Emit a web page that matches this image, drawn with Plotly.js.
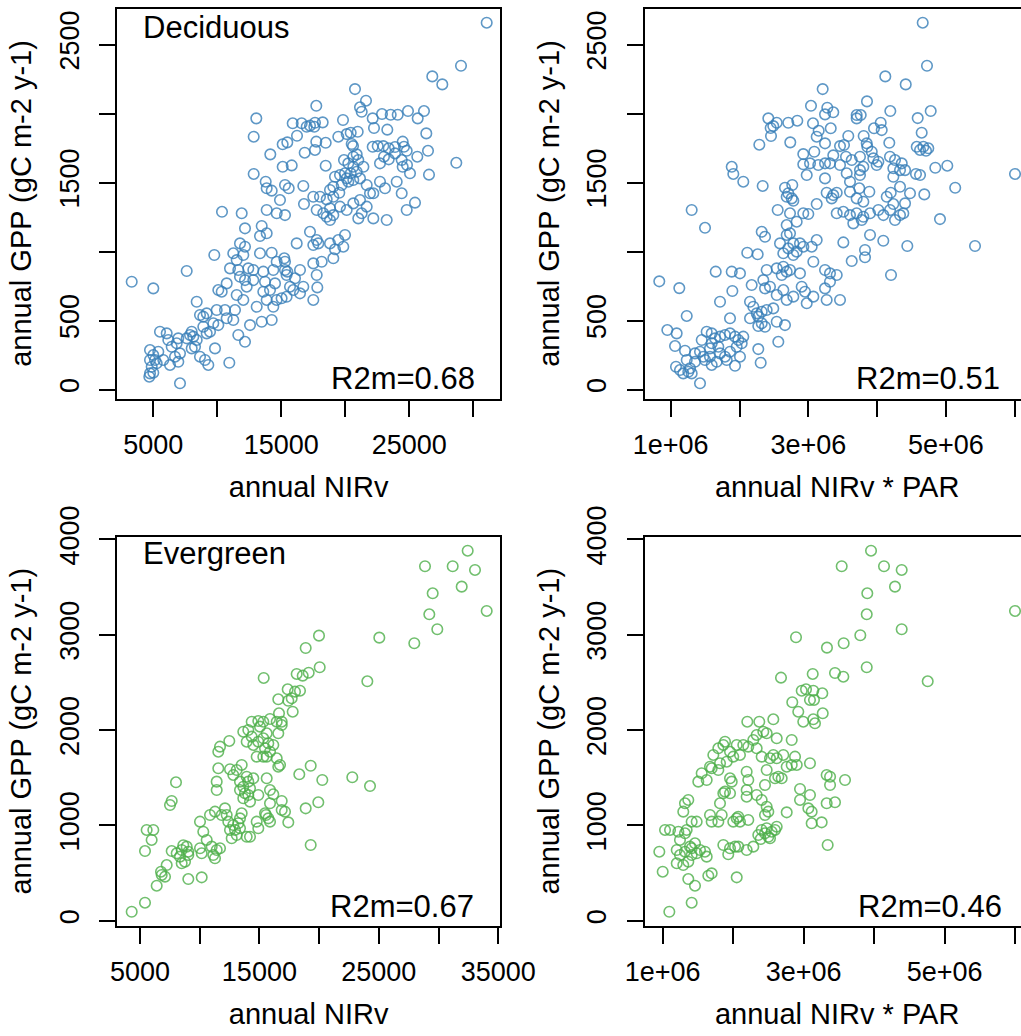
<!DOCTYPE html>
<html>
<head>
<meta charset="utf-8">
<script src="https://cdn.plot.ly/plotly-3.0.1.min.js"></script>
<style>
html,body{margin:0;padding:0;overflow:hidden;background:#fff;}
#chart{width:1100px;height:1036px;}
</style>
</head>
<body>
<div id="chart"></div>
<script>
// ---------------- DATA ----------------
// Deciduous: [annual NIRv, annual GPP]
const decNIRvPts = [
[31047,2658],[29039,2346],[26797,2269],[27578,2211],[20758,2177],[21617,2093],[17734,2056],[21148,2045],[21281,2013],[13047,1965],
[22867,1996],[23547,1991],[24094,1991],[24898,2018],[26148,2018],[25656,1965],[22141,1965],[19820,1953],[15891,1929],[16594,1929],
[17242,1912],[17633,1933],[18234,1936],[16984,1904],[17578,1904],[12844,1832],[16227,1839],[22242,1895],[23281,1883],[19453,1832],
[20109,1851],[20422,1861],[20969,1868],[26328,1856],[17734,1796],[18469,1788],[15109,1777],[15469,1791],[14141,1704],[16828,1716],
[17633,1736],[20500,1779],[20602,1764],[22141,1759],[22531,1764],[22969,1764],[23391,1748],[23883,1757],[24484,1796],[24586,1759],
[24797,1730],[26461,1730],[19898,1663],[20234,1639],[20625,1687],[20891,1704],[21016,1663],[21414,1614],[20625,1614],[20891,1578],
[20422,1567],[20109,1530],[20625,1518],[21148,1530],[18469,1622],[23023,1687],[22711,1639],[23391,1668],[23883,1711],[24406,1663],
[24484,1614],[24820,1627],[25055,1567],[25625,1687],[28672,1643],[26539,1557],[12844,1562],[15109,1614],[15813,1624],[13781,1506],
[13859,1458],[14250,1441],[15289,1482],[15578,1458],[16719,1475],[14898,1373],[13859,1301],[14641,1277],[15289,1264],[10367,1288],
[11906,1277],[16773,1344],[17500,1397],[18023,1397],[18547,1378],[19063,1397],[19531,1426],[18805,1446],[19063,1469],[19719,1482],
[20234,1506],[19586,1554],[19195,1542],[19977,1567],[21672,1482],[21930,1422],[22188,1422],[22711,1506],[23102,1458],[24016,1506],
[24406,1422],[25445,1354],[24797,1301],[19586,1325],[20109,1301],[20625,1349],[21281,1277],[21672,1325],[21148,1373],[17766,1301],
[18281,1277],[18805,1313],[19063,1264],[23234,1228],[18805,1228],[21016,1240],[22188,1240],[18547,1252],[12164,1168],[13469,1185],
[13859,1132],[13336,1112],[11773,1059],[12164,1035],[9766,975],[11250,987],[12031,975],[11516,938],[13336,987],[14250,991],
[16203,1059],[17242,1143],[17766,1083],[17500,1047],[17891,1059],[18805,1059],[19195,1016],[19453,1083],[19844,1035],[19977,1120],
[19063,951],[18156,926],[17500,914],[15234,951],[15289,866],[15469,854],[16461,866],[16070,806],[16719,745],[17766,830],
[17813,740],[17500,649],[16461,697],[7609,859],[3313,781],[5000,733],[10992,878],[11641,866],[12422,878],[12813,866],
[11773,817],[12164,793],[12813,793],[12297,745],[10734,769],[10344,709],[10078,721],[13594,854],[14375,866],[13727,781],
[14117,721],[14508,769],[13594,709],[13859,649],[14375,600],[14633,649],[15024,661],[15414,672],[15680,745],[15414,830],
[15938,721],[11516,685],[12031,649],[13078,600],[8391,636],[8648,540],[8906,528],[9172,552],[9953,576],[9688,480],
[10602,576],[10734,516],[11383,576],[11250,504],[10078,467],[12555,467],[13469,491],[14250,504],[11641,395],[12164,346],
[9820,298],[10938,194],[7086,45],[4742,286],[5000,250],[5391,274],[5523,419],[6047,407],[6172,359],[6438,310],
[6828,335],[6953,371],[7086,262],[6695,238],[6305,178],[5781,214],[5266,190],[4875,165],[4742,117],[5000,122],
[4688,93],[5133,214],[6953,201],[7609,371],[7867,395],[8125,383],[8258,310],[8000,298],[8906,455],[9172,407],
[9430,419],[8648,238],[9039,214],[9297,178],[8391,359],[8000,419],[4742,214],[14641,926],[15289,926]
];
// Deciduous: [annual NIRv * PAR, annual GPP]
const decNIRvPARPts = [
[4.663e6,2658],[4.725e6,2346],[4.119e6,2269],[4.416e6,2211],[3.209e6,2177],[3.853e6,2088],[3.039e6,2056],[3.276e6,2042],[3.363e6,2009],[3.243e6,1994],
[4.192e6,2018],[4.779e6,2018],[4.590e6,1967],[4.648e6,1861],[3.703e6,1989],[3.762e6,1989],[3.703e6,1965],[2.419e6,1965],[2.541e6,1933],[2.491e6,1909],
[2.453e6,1895],[2.709e6,1933],[2.840e6,1948],[2.458e6,1837],[2.288e6,1774],[2.738e6,1791],[3.068e6,1929],[3.151e6,1875],[3.122e6,1832],[3.326e6,1893],
[3.955e6,1893],[4.052e6,1933],[4.067e6,1880],[4.177e6,1788],[3.805e6,1837],[3.849e6,1784],[3.581e6,1837],[3.519e6,1772],[3.461e6,1764],[3.243e6,1784],
[3.087e6,1723],[2.927e6,1706],[3.363e6,1697],[3.243e6,1639],[3.315e6,1639],[3.461e6,1627],[2.927e6,1632],[3.025e6,1639],[3.145e6,1627],[2.977e6,1554],
[3.243e6,1530],[3.548e6,1687],[3.631e6,1663],[3.751e6,1687],[3.858e6,1759],[3.922e6,1723],[3.945e6,1675],[4.018e6,1651],[3.994e6,1627],[3.558e6,1567],
[3.606e6,1506],[3.751e6,1590],[3.800e6,1614],[3.751e6,1554],[4.187e6,1687],[4.260e6,1663],[4.358e6,1639],[4.236e6,1603],[4.333e6,1590],[4.406e6,1590],
[4.236e6,1542],[4.576e6,1759],[4.624e6,1736],[4.672e6,1759],[4.711e6,1730],[4.744e6,1748],[4.565e6,1562],[4.624e6,1554],[4.846e6,1607],[5.020e6,1622],
[6.004e6,1562],[5.135e6,1462],[4.686e6,1414],[1.887e6,1614],[1.910e6,1562],[2.055e6,1506],[2.337e6,1475],[2.661e6,1462],[2.767e6,1482],[2.686e6,1397],
[2.759e6,1385],[2.782e6,1368],[2.709e6,1422],[3.267e6,1426],[3.363e6,1409],[3.413e6,1426],[3.340e6,1385],[3.606e6,1433],[3.741e6,1458],[3.887e6,1433],
[3.703e6,1385],[3.800e6,1361],[4.140e6,1397],[4.198e6,1426],[4.333e6,1469],[4.478e6,1422],[4.406e6,1349],[4.236e6,1344],[1.305e6,1301],[3.122e6,1344],
[1.499e6,1172],[0.834e6,784],[1.125e6,735],[2.555e6,1301],[2.734e6,1277],[2.831e6,1216],[2.927e6,1277],[3.000e6,1272],[2.686e6,1192],[2.734e6,1132],
[2.686e6,1120],[3.413e6,1277],[3.509e6,1288],[3.606e6,1264],[3.703e6,1277],[3.800e6,1252],[3.897e6,1277],[4.018e6,1301],[4.091e6,1264],[4.188e6,1301],
[4.260e6,1228],[4.333e6,1264],[4.381e6,1277],[3.654e6,1204],[3.776e6,1228],[4.914e6,1235],[2.323e6,1143],[2.371e6,1107],[2.589e6,1059],[2.637e6,987],
[2.709e6,1023],[2.782e6,1059],[2.879e6,1059],[2.928e6,1035],[2.831e6,999],[2.782e6,975],[3.049e6,1035],[3.122e6,1083],[3.073e6,926],[3.509e6,1066],
[3.631e6,931],[3.824e6,1011],[3.824e6,958],[3.897e6,1120],[4.090e6,1078],[4.439e6,1040],[5.423e6,1040],[4.202e6,830],[2.113e6,991],[2.264e6,980],
[1.654e6,854],[1.887e6,854],[2.007e6,842],[1.896e6,714],[1.717e6,636],[1.862e6,516],[1.233e6,533],[2.177e6,757],[2.346e6,793],[2.371e6,733],
[2.395e6,866],[2.541e6,878],[2.614e6,830],[2.637e6,890],[2.686e6,854],[2.734e6,866],[2.443e6,745],[2.541e6,685],[2.637e6,721],[2.686e6,649],
[2.782e6,673],[2.879e6,842],[2.904e6,745],[2.952e6,709],[2.977e6,625],[3.073e6,673],[3.243e6,866],[3.315e6,842],[3.413e6,830],[3.243e6,733],
[3.315e6,781],[3.267e6,649],[3.461e6,649],[2.153e6,636],[2.201e6,600],[2.250e6,552],[2.323e6,564],[2.395e6,576],[2.491e6,588],[2.153e6,516],
[2.273e6,528],[2.323e6,480],[2.273e6,460],[2.371e6,455],[2.541e6,491],[2.661e6,467],[2.564e6,346],[2.273e6,293],[2.308e6,194],[0.951e6,431],
[1.087e6,407],[1.063e6,315],[1.208e6,281],[1.077e6,165],[1.183e6,117],[1.256e6,129],[1.305e6,117],[1.426e6,45],[1.353e6,262],[1.426e6,274],
[1.474e6,238],[1.451e6,359],[1.523e6,419],[1.596e6,407],[1.644e6,371],[1.717e6,383],[1.789e6,395],[1.862e6,407],[1.935e6,383],[1.983e6,359],
[2.055e6,383],[2.032e6,335],[1.959e6,310],[1.862e6,274],[1.789e6,238],[1.692e6,310],[1.717e6,262],[1.669e6,201],[1.596e6,178],[1.571e6,238],
[1.814e6,214],[1.935e6,172],[2.007e6,238],[1.499e6,214],[1.353e6,201],[1.233e6,214],[1.596e6,335],[1.571e6,298],[1.135e6,141],[1.281e6,154]
];
// Evergreen: [annual NIRv, annual GPP]
const evgNIRvPts = [
[32444,3882],[28869,3719],[31188,3719],[33056,3680],[31942,3505],[29513,3435],[29229,3215],[34036,3250],[29899,3058],[27973,2911],
[25042,2970],[19991,2991],[18877,2861],[20050,2659],[24039,2512],[15360,2547],[18123,2589],[18626,2571],[19128,2602],[17370,2428],
[17981,2403],[18400,2413],[16582,2323],[17420,2308],[17705,2334],[16641,2176],[17788,2193],[14355,2088],[14908,2095],[15327,2088],
[15888,2116],[16449,2088],[16868,2088],[4305,94],[5419,189],[6399,367],[6817,480],[7094,462],[6759,514],[7236,584],
[9045,437],[10167,455],[5419,731],[5558,952],[6114,952],[5976,847],[7513,1214],[7655,1256],[8015,1452],[7655,731],
[8073,707],[8492,742],[8626,792],[8911,777],[8350,672],[9045,689],[8769,619],[8492,602],[9045,724],[10025,1039],
[10301,934],[10025,760],[10167,707],[10863,1109],[11281,1144],[10586,847],[11005,777],[11139,689],[11424,742],[11700,760],
[11281,655],[11842,1109],[12119,1179],[12261,1109],[12395,1039],[12538,952],[12680,865],[12956,952],[13099,899],[13233,1022],
[13517,1127],[13375,970],[13936,881],[14213,881],[14773,1039],[14908,970],[15553,1109],[15745,1074],[15888,1039],[15469,1127],
[13375,1074],[12814,1004],[17420,1032],[16868,1162],[17144,1144],[19296,794],[18877,1179],[19933,1242],[15888,1232],[16868,1256],
[16164,1326],[18341,1536],[19296,1626],[20268,1476],[22780,1505],[24263,1413],[11424,1459],[11424,1371],[11558,1599],[12538,1589],
[13099,1581],[12814,1529],[13517,1634],[13375,1459],[13651,1406],[13936,1511],[14070,1459],[13375,1371],[13794,1337],[14213,1389],
[14489,1494],[14070,1319],[13651,1284],[14213,1249],[14908,1319],[15611,1494],[15888,1371],[11558,1773],[11700,1826],[12478,1886],
[13651,1983],[14070,2001],[14355,1931],[13936,1878],[14489,1844],[14908,1878],[14773,1721],[15327,1721],[15469,1809],[15745,1861],
[15888,1773],[16164,1844],[16449,1704],[16725,1634],[16582,1616],[15611,1721],[15611,1966],[15327,1914],[15050,2036],[16582,1966],
[16868,2053]
];
// Evergreen: [annual NIRv * PAR, annual GPP]
const evgNIRvPARPts = [
[3.955e6,3882],[3.539e6,3719],[4.139e6,3719],[4.390e6,3680],[4.295e6,3505],[3.902e6,3435],[3.894e6,3215],[5.997e6,3250],[4.390e6,3058],[3.803e6,2995],
[2.891e6,2974],[3.567e6,2911],[3.330e6,2865],[3.894e6,2659],[4.759e6,2512],[2.678e6,2550],[3.128e6,2589],[3.444e6,2599],[3.562e6,2560],[2.972e6,2413],
[3.033e6,2428],[3.136e6,2413],[3.264e6,2386],[2.838e6,2292],[3.089e6,2316],[3.146e6,2316],[2.923e6,2193],[3.270e6,2176],[2.200e6,2088],[2.370e6,2088],
[2.569e6,2113],[2.994e6,2088],[3.136e6,2113],[3.160e6,2071],[1.094e6,94],[1.411e6,189],[2.050e6,455],[1.363e6,437],[1.458e6,367],[1.647e6,472],
[1.695e6,497],[1.000e6,514],[0.952e6,724],[1.199e6,602],[1.292e6,584],[1.363e6,619],[1.199e6,742],[1.245e6,689],[1.316e6,724],[1.411e6,760],
[1.458e6,812],[1.529e6,742],[1.600e6,724],[1.624e6,672],[1.482e6,707],[1.387e6,777],[1.245e6,847],[1.316e6,917],[1.340e6,952],[1.033e6,952],
[1.104e6,952],[1.222e6,934],[1.411e6,689],[1.316e6,1232],[1.363e6,1267],[1.292e6,1144],[1.411e6,1039],[1.482e6,1039],[1.671e6,1109],[1.695e6,1039],
[1.789e6,1039],[1.837e6,1109],[2.001e6,1039],[2.072e6,1091],[2.096e6,1039],[2.214e6,1057],[1.860e6,794],[1.955e6,760],[2.026e6,777],[2.072e6,777],
[2.191e6,742],[2.285e6,777],[1.930e6,697],[2.356e6,899],[2.404e6,952],[2.451e6,917],[2.498e6,881],[2.546e6,934],[2.593e6,952],[2.475e6,970],
[2.522e6,865],[2.617e6,986],[2.390e6,857],[2.759e6,1137],[2.948e6,1382],[2.948e6,1267],[3.089e6,1319],[3.066e6,1179],[3.113e6,1144],[3.113e6,1022],
[3.255e6,1032],[3.326e6,1232],[3.444e6,1242],[3.340e6,794],[3.374e6,1424],[3.326e6,1529],[3.374e6,1511],[3.586e6,1476],[1.624e6,1476],[1.505e6,1459],
[1.553e6,1547],[1.671e6,1616],[1.695e6,1599],[1.789e6,1581],[1.813e6,1652],[1.908e6,1668],[1.718e6,1739],[1.789e6,1809],[1.860e6,1844],[1.884e6,1878],
[1.955e6,1773],[2.050e6,1844],[2.143e6,1844],[2.096e6,1739],[2.001e6,1721],[1.955e6,1494],[1.979e6,1459],[1.860e6,1337],[1.813e6,1232],[1.884e6,1354],
[1.955e6,1337],[2.191e6,1563],[2.214e6,1476],[2.191e6,1371],[2.191e6,1301],[2.050e6,1074],[2.333e6,1319],[2.404e6,1267],[2.475e6,1196],[2.498e6,1144],
[2.451e6,1109],[2.451e6,1424],[2.475e6,1581],[2.333e6,1809],[2.404e6,1721],[2.522e6,1704],[2.569e6,1739],[2.617e6,1704],[2.711e6,1739],[2.759e6,1616],
[2.830e6,1634],[2.901e6,1634],[2.877e6,1721],[3.089e6,1652],[2.593e6,1494],[2.640e6,1511],[2.688e6,1494],[2.333e6,1949],[2.427e6,1983],[2.475e6,1966],
[2.617e6,1914],[2.830e6,1896],[2.285e6,1896],[2.214e6,1826]
];

// tick values / labels
const nirvDecTicks = [5000,10000,15000,20000,25000,30000];
const nirvDecLabels = ['5000','','15000','','25000',''];
const nirvEvgTicks = [5000,10000,15000,20000,25000,30000,35000];
const nirvEvgLabels = ['5000','','15000','','25000','','35000'];
const parTicks = [1e6,2e6,3e6,4e6,5e6,6e6];
const parLabels = ['1e+06','','3e+06','','5e+06',''];
const gppDecTicks = [0,500,1000,1500,2000,2500];
const gppDecLabels = ['0','500','','1500','','2500'];
const gppEvgTicks = [0,1000,2000,3000,4000];
const gppEvgLabels = ['0','1000','2000','3000','4000'];

const panelLabels = ['Deciduous','Evergreen'];
const r2Labels = ['R2m=0.68','R2m=0.51','R2m=0.67','R2m=0.46'];
const xTitles = ['annual NIRv','annual NIRv * PAR'];
const yTitle = 'annual GPP (gC m-2 y-1)';

// ---------------- STYLE / LAYOUT ----------------
const W = 1100, H = 1036;
const FONT = 'Liberation Sans, Arial, Helvetica, sans-serif';
const BLUE = 'rgba(55,126,184,0.8)';
const GREEN = 'rgba(77,175,74,0.8)';
const px = v => v / W;
const py = v => 1 - v / H;

function trace(pts, color, xa, ya) {
  return {
    type: 'scatter', mode: 'markers',
    x: pts.map(p => p[0]), y: pts.map(p => p[1]),
    xaxis: xa, yaxis: ya,
    marker: {symbol: 'circle-open', size: 10.5, color: color, line: {width: 1.6, color: color}},
    hoverinfo: 'x+y', showlegend: false, cliponaxis: true
  };
}

const data = [
  trace(decNIRvPts, BLUE, 'x', 'y'),
  trace(decNIRvPARPts, BLUE, 'x2', 'y2'),
  trace(evgNIRvPts, GREEN, 'x3', 'y3'),
  trace(evgNIRvPARPts, GREEN, 'x4', 'y4')
];

function axis(domain, range, tv, tt, title, isY, anchor) {
  const a = {
    domain: domain, range: range, anchor: anchor,
    showline: true, mirror: true, linecolor: 'black', linewidth: 2,
    ticks: 'outside', ticklen: 16, tickwidth: 2, tickcolor: 'black',
    tickmode: 'array', tickvals: tv, ticktext: tt,
    tickfont: {family: FONT, size: 27, color: 'black'},
    ticklabelstandoff: isY ? 10 : 5,
    showgrid: false, zeroline: false, automargin: false,
    title: {text: title, font: {family: FONT, size: 29, color: 'black'}, standoff: isY ? 14 : 18}
  };
  if (isY) a.tickangle = -90;
  return a;
}

const colL = [px(117.3), px(500)];
const colR = [px(645), px(1029.3)];
const rowT = [py(398.5), py(8.5)];
const rowB = [py(925.7), py(536.7)];

const layout = {
  width: W, height: H,
  margin: {l: 0, r: 0, t: 0, b: 0, pad: 0},
  paper_bgcolor: 'white', plot_bgcolor: 'white',
  font: {family: FONT, color: 'black'},
  showlegend: false,
  xaxis:  axis(colL, [2187.5, 32086], nirvDecTicks, nirvDecLabels, xTitles[0], false, 'y'),
  yaxis:  axis(rowT, [-65, 2761], gppDecTicks, gppDecLabels, yTitle, true, 'x'),
  xaxis2: axis(colR, [0.6265e6, 6.212e6], parTicks, parLabels, xTitles[1], false, 'y2'),
  yaxis2: axis(rowT, [-65, 2761], gppDecTicks, gppDecLabels, yTitle, true, 'x2'),
  xaxis3: axis(colL, [3099, 35150], nirvEvgTicks, nirvEvgLabels, xTitles[0], false, 'y3'),
  yaxis3: axis(rowB, [-52.5, 4029], gppEvgTicks, gppEvgLabels, yTitle, true, 'x3'),
  xaxis4: axis(colR, [0.749e6, 6.200e6], parTicks, parLabels, xTitles[1], false, 'y4'),
  yaxis4: axis(rowB, [-52.5, 4029], gppEvgTicks, gppEvgLabels, yTitle, true, 'x4'),
  annotations: [
    {text: panelLabels[0], xref: 'paper', yref: 'paper', x: px(141), y: py(28), xanchor: 'left', yanchor: 'middle', showarrow: false, font: {family: FONT, size: 31, color: 'black'}},
    {text: panelLabels[1], xref: 'paper', yref: 'paper', x: px(141), y: py(553), xanchor: 'left', yanchor: 'middle', showarrow: false, font: {family: FONT, size: 31, color: 'black'}},
    {text: r2Labels[0], xref: 'paper', yref: 'paper', x: px(477), y: py(378), xanchor: 'right', yanchor: 'middle', showarrow: false, font: {family: FONT, size: 31, color: 'black'}},
    {text: r2Labels[1], xref: 'paper', yref: 'paper', x: px(1001.5), y: py(378), xanchor: 'right', yanchor: 'middle', showarrow: false, font: {family: FONT, size: 31, color: 'black'}},
    {text: r2Labels[2], xref: 'paper', yref: 'paper', x: px(476), y: py(906), xanchor: 'right', yanchor: 'middle', showarrow: false, font: {family: FONT, size: 31, color: 'black'}},
    {text: r2Labels[3], xref: 'paper', yref: 'paper', x: px(1004), y: py(906), xanchor: 'right', yanchor: 'middle', showarrow: false, font: {family: FONT, size: 31, color: 'black'}}
  ]
};

Plotly.newPlot('chart', data, layout, {displayModeBar: false, staticPlot: true});
</script>
</body>
</html>
